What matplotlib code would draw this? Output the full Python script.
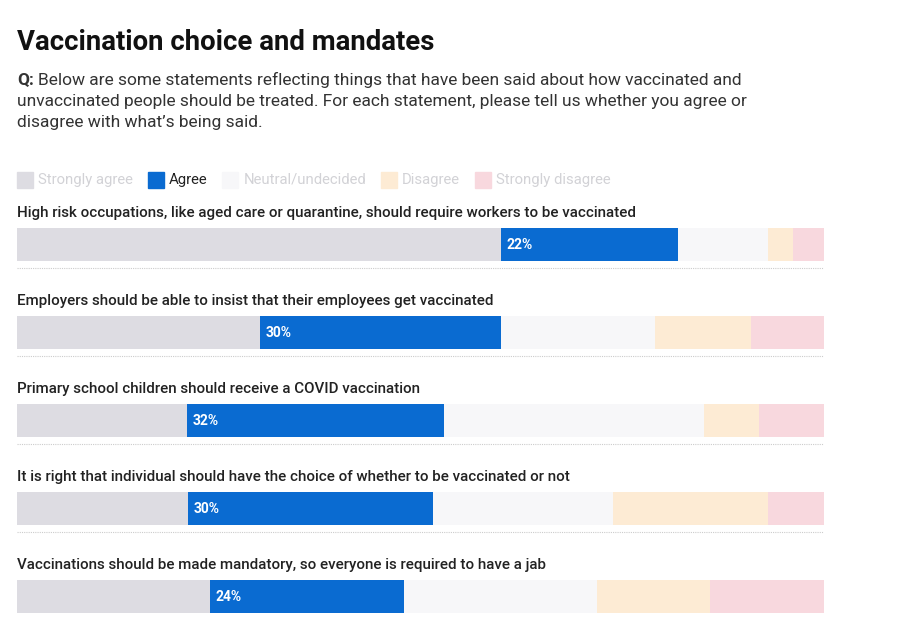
import matplotlib
matplotlib.use("Agg")
import matplotlib.pyplot as plt
import numpy as np

plt.rcParams["font.family"] = ["Roboto", "DejaVu Sans"]

statements = [
    "High risk occupations, like aged care or quarantine, should require workers to be vaccinated",
    "Employers should be able to insist that their employees get vaccinated",
    "Primary school children should receive a COVID vaccination",
    "It is right that individual should have the choice of whether to be vaccinated or not",
    "Vaccinations should be made mandatory, so everyone is required to have a jab",
]
categories = ["Strongly agree", "Agree", "Neutral/undecided", "Disagree", "Strongly disagree"]
# shares in %
strongly_agree = [60.0, 30.1, 21.1, 21.2, 23.9]
agree = [21.9, 29.9, 31.8, 30.4, 24.0]
neutral = [11.2, 19.1, 32.2, 22.2, 24.0]
disagree = [3.0, 11.9, 6.9, 19.3, 14.0]
strongly_disagree = [3.9, 9.0, 8.0, 6.9, 14.1]

colors = ["#dddce2", "#0a6bd1", "#f7f7f9", "#fdebd4", "#f8d8de"]
legend_text = ["#d2d2d6", "#222222", "#d2d2d6", "#d2d2d6", "#d2d2d6"]

W, H = 903, 640
fig = plt.figure(figsize=(W / 100, H / 100), dpi=100)

# title block
fig.text(17 / W, 1 - 42 / H, "Vaccination choice and mandates", fontsize=19.8,
         fontweight="bold", color="#111111", va="center", ha="left")
sub_lines = ["Below are some statements reflecting things that have been said about how vaccinated and",
             "unvaccinated people should be treated. For each statement, please tell us whether you agree or",
             "disagree with what\u2019s being said."]
q = fig.text(17 / W, 1 - 80 / H, "Q:", fontsize=12.5, fontweight="bold", color="#333333",
             va="center", ha="left")
fig.canvas.draw()
qx = q.get_window_extent().x1 + 4
for k, line in enumerate(sub_lines):
    x0 = qx if k == 0 else 17
    fig.text(x0 / W, 1 - (80 + 21.5 * k) / H, line, fontsize=12.5, color="#333333",
             va="center", ha="left")

# legend
lx = 17
for cat, c, tc in zip(categories, colors, legend_text):
    fig.patches.append(plt.Rectangle((lx / W, 1 - 188 / H), 16 / W, 16 / H,
                                     transform=fig.transFigure, color=c))
    t = fig.text((lx + 21) / W, 1 - 180 / H, cat, fontsize=10.7, color=tc,
                 va="center", ha="left")
    fig.canvas.draw()
    bb = t.get_window_extent()
    lx = bb.x1 + 15

# bars
ax = fig.add_axes([17 / W, 0, 807 / W, 440 / H])
ax.set_xlim(0, 100)
ax.set_ylim(4.494, -0.506)
ax.axis("off")

y = np.arange(len(statements))
series = [strongly_agree, agree, neutral, disagree, strongly_disagree]
left = np.zeros(len(statements))
for vals, c in zip(series, colors):
    ax.barh(y, vals, left=left, height=0.375, color=c, edgecolor="none")
    left += np.array(vals)

starts = np.array(strongly_agree)
for i in y:
    ax.text(starts[i] + 0.7, i, f"{round(agree[i])}%", color="white", fontsize=10,
            fontweight="bold", va="center", ha="left")
    ax.text(0, i - 0.358, statements[i], fontsize=10.9, fontweight="medium",
            color="#222222", va="center", ha="left")
    if i < len(statements) - 1:
        ax.plot([0, 100], [i + 0.267, i + 0.267], color="#cccccc", lw=0.8,
                ls=(0, (1, 1)))

fig.savefig("out.png", dpi=100)
